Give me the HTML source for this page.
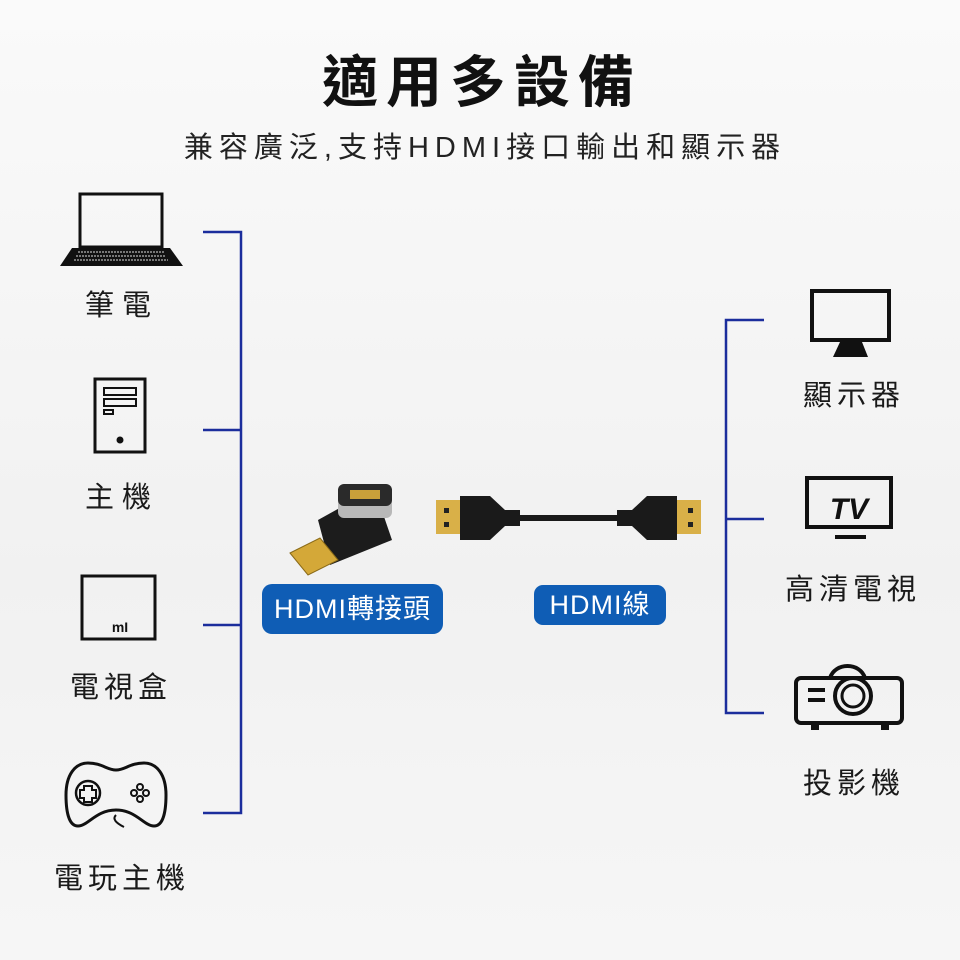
<!DOCTYPE html>
<html><head><meta charset="utf-8"><style>
body{margin:0;width:960px;height:960px;background:linear-gradient(#fafafa,#f1f1f1 60%,#f6f6f6);overflow:hidden;font-family:"Liberation Sans","Noto Sans CJK TC",sans-serif;}
.t{position:absolute;white-space:nowrap;transform:translateX(-50%);color:#1a1a1a;}
</style></head><body>
<div class="t" style="left:482px;top:38px;font-size:56px;font-weight:bold;letter-spacing:8px;color:#111">適用多設備</div>
<div class="t" style="left:485px;top:124px;font-size:29px;letter-spacing:6px;color:#222">兼容廣泛,支持HDMI接口輸出和顯示器</div>
<div class="t" style="left:122px;top:282px;font-size:29px;letter-spacing:8px">筆電</div>
<div class="t" style="left:122px;top:474px;font-size:29px;letter-spacing:8px">主機</div>
<div class="t" style="left:121px;top:664px;font-size:29px;letter-spacing:5px">電視盒</div>
<div class="t" style="left:122px;top:855px;font-size:29px;letter-spacing:5px">電玩主機</div>
<div class="t" style="left:854px;top:372px;font-size:29px;letter-spacing:5px">顯示器</div>
<div class="t" style="left:853px;top:566px;font-size:29px;letter-spacing:5px">高清電視</div>
<div class="t" style="left:854px;top:760px;font-size:29px;letter-spacing:5px">投影機</div>
<div style="position:absolute;left:262px;top:584px;width:181px;height:50px;background:#0f5db5;border-radius:10px;color:#fff;font-size:27px;line-height:50px;text-align:center;letter-spacing:1px">HDMI轉接頭</div>
<div style="position:absolute;left:534px;top:585px;width:132px;height:40px;background:#0f5db5;border-radius:9px;color:#fff;font-size:27px;line-height:40px;text-align:center;letter-spacing:1px">HDMI線</div>
<svg width="960" height="960" style="position:absolute;left:0;top:0" fill="none" stroke="#111">
<g stroke="#1b2d9c" stroke-width="2.5">
<path d="M203 232H241V813H203M203 430H241M203 625H241"/>
<path d="M764 320H726V713H764M726 519H764"/>
</g>
<rect x="80" y="194" width="82" height="53" stroke-width="3"/>
<path d="M72 248H170L183 266H60Z" fill="#111" stroke="none"/>
<path d="M78 252H164M76 256H166M74 260H168" stroke="#ddd" stroke-width="1" stroke-dasharray="2 1"/>
<rect x="95" y="379" width="50" height="73" stroke-width="3"/>
<rect x="104" y="388" width="32" height="7" stroke-width="2"/>
<rect x="104" y="399" width="32" height="7" stroke-width="2"/>
<rect x="104" y="410" width="9" height="4" stroke-width="2"/>
<circle cx="120" cy="440" r="3" fill="#111"/>
<rect x="82" y="576" width="73" height="63" stroke-width="3"/>
<text x="120" y="632" font-size="14" font-weight="bold" fill="#111" stroke="none" text-anchor="middle" font-family="Liberation Sans">mI</text>
<path d="M88 763C75 763 66 775 66 795C66 815 70 826 78 826C88 826 96 810 116 810C136 810 144 826 154 826C162 826 166 815 166 795C166 775 157 763 144 763C130 763 125 770 116 770C107 770 102 763 88 763Z" stroke-width="3"/>
<circle cx="88" cy="793" r="12" stroke-width="2.5"/>
<path d="M84 786h8v4h4v8h-4v4h-8v-4h-4v-8h4z" stroke-width="2"/>
<circle cx="140" cy="787" r="3" stroke-width="2"/><circle cx="146" cy="793" r="3" stroke-width="2"/><circle cx="134" cy="793" r="3" stroke-width="2"/><circle cx="140" cy="799" r="3" stroke-width="2"/>
<path d="M116 815c-4 4 0 8 8 12" stroke-width="2"/>
<rect x="812" y="291" width="77" height="49" stroke-width="4"/>
<path d="M840 342H862L868 357H833Z" fill="#111" stroke="none"/>
<rect x="807" y="478" width="84" height="49" stroke-width="4"/>
<text x="849" y="519" font-size="30" font-weight="bold" font-style="italic" fill="#111" stroke="none" text-anchor="middle" font-family="Liberation Sans">TV</text>
<path d="M835 537H866" stroke-width="4"/>
<rect x="796" y="678" width="106" height="45" rx="5" stroke-width="4"/>
<path d="M830 678C835 662 860 662 865 678" stroke-width="4"/>
<circle cx="853" cy="696" r="18" stroke-width="4"/>
<circle cx="853" cy="696" r="11" stroke-width="3"/>
<path d="M808 690H825M808 700H825" stroke-width="4"/>
<path d="M812 723v6h6v-6M882 723v6h6v-6" fill="#111" stroke-width="2"/>
<path d="M318 520L345 505L380 505L392 540L330 565Z" fill="#1c1c1c" stroke="none"/>
<rect x="338" y="488" width="54" height="30" rx="6" fill="#b8b8b8" stroke="none"/>
<rect x="338" y="484" width="54" height="22" rx="6" fill="#2a2a2a" stroke="none"/>
<rect x="350" y="490" width="30" height="9" fill="#c9a03a" stroke="none"/>
<path d="M290 553L320 538L338 560L308 575Z" fill="#d4a838" stroke="#8a6a18" stroke-width="1"/>
<rect x="436" y="500" width="25" height="34" fill="#d9b048" stroke="none"/>
<rect x="676" y="500" width="25" height="34" fill="#d9b048" stroke="none"/>
<path d="M460 496H490L505 510H520V526H505L490 540H460Z" fill="#1a1a1a" stroke="none"/>
<path d="M677 496H647L632 510H617V526H632L647 540H677Z" fill="#1a1a1a" stroke="none"/>
<path d="M518 518H620" stroke="#1a1a1a" stroke-width="6"/>
<rect x="444" y="508" width="5" height="5" fill="#222" stroke="none"/><rect x="444" y="522" width="5" height="5" fill="#222" stroke="none"/>
<rect x="688" y="508" width="5" height="5" fill="#222" stroke="none"/><rect x="688" y="522" width="5" height="5" fill="#222" stroke="none"/>
</svg>
</body></html>
